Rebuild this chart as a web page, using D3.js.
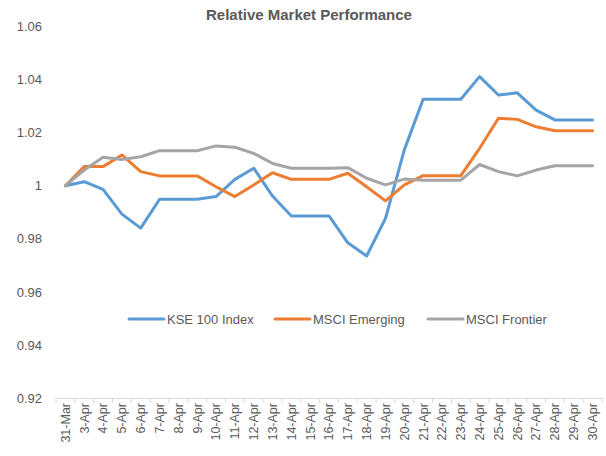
<!DOCTYPE html>
<html><head><meta charset="utf-8">
<script src="https://cdn.jsdelivr.net/npm/d3@7"></script>
<style>body{margin:0;background:#fff}svg{display:block}</style>
</head><body>
<script>
const categories = ["31-Mar","3-Apr","4-Apr","5-Apr","6-Apr","7-Apr","8-Apr","9-Apr","10-Apr","11-Apr","12-Apr","13-Apr","14-Apr","15-Apr","16-Apr","17-Apr","18-Apr","19-Apr","20-Apr","21-Apr","22-Apr","23-Apr","24-Apr","25-Apr","26-Apr","27-Apr","28-Apr","29-Apr","30-Apr"];
const kse100 = [1.0,1.0015,0.9986,0.9893,0.984,0.9949,0.9949,0.9949,0.9959,1.0024,1.0066,0.9961,0.9886,0.9886,0.9886,0.9785,0.9735,0.9877,1.0135,1.0326,1.0326,1.0326,1.0411,1.0342,1.035,1.0285,1.0248,1.0248,1.0248];
const msciEmerging = [1.0,1.0072,1.0072,1.0116,1.0053,1.0037,1.0037,1.0037,0.9996,0.9959,1.0003,1.0049,1.0024,1.0024,1.0024,1.0047,0.9996,0.9943,1.0003,1.0038,1.0038,1.0038,1.0141,1.0254,1.025,1.0222,1.0207,1.0207,1.0207];
const msciFrontier = [1.0,1.0059,1.0107,1.0099,1.0109,1.0132,1.0132,1.0132,1.015,1.0145,1.0122,1.0084,1.0066,1.0066,1.0066,1.0068,1.0028,1.0003,1.0025,1.0021,1.0021,1.0021,1.008,1.0053,1.0037,1.0059,1.0075,1.0075,1.0075];
const yTicks = [0.92,0.94,0.96,0.98,1,1.02,1.04,1.06];
const seriesNames = ["KSE 100 Index","MSCI Emerging","MSCI Frontier"];
const colors = ["#5B9BD5","#ED7D31","#A5A5A5"];

const W = 606, H = 456;
const font = "'Liberation Sans', Arial, sans-serif";
const svg = d3.select("body").append("svg").attr("width", W).attr("height", H);

const x = d3.scaleBand().domain(categories).range([56, 602]);
const y = d3.scaleLinear().domain([0.92, 1.06]).range([398, 26.5]);

// title
svg.append("text").attr("x", 309).attr("y", 20).attr("text-anchor", "middle")
  .attr("font-family", font).attr("font-weight", "bold").attr("font-size", 15)
  .attr("fill", "#595959").text("Relative Market Performance");

// y axis labels (no line)
const yAxis = d3.axisLeft(y).tickValues(yTicks).tickFormat(d => d === 1 ? "1" : d3.format(".2f")(d)).tickSize(0).tickPadding(0);
const yg = svg.append("g").attr("transform", "translate(42,0)").call(yAxis);
yg.select(".domain").remove();
yg.selectAll("text").attr("font-family", font).attr("font-size", 13).attr("fill", "#595959");

// x axis
const xAxis = d3.axisBottom(x).tickSizeInner(0).tickSizeOuter(0);
const xg = svg.append("g").attr("transform", "translate(0,398)").call(xAxis);
xg.select(".domain").attr("stroke", "#D9D9D9").attr("stroke-width", 1);
xg.selectAll(".tick text").attr("font-family", font).attr("font-size", 12.5).attr("fill", "#595959")
  .attr("transform", "rotate(-90)").attr("text-anchor", "end").attr("x", -5).attr("y", 0).attr("dy", "0.35em");
// tick marks at band boundaries
const bounds = categories.map(c => x(c)).concat([x.range()[1]]);
xg.selectAll(".bt").data(bounds).enter().append("line")
  .attr("x1", d => d).attr("x2", d => d).attr("y1", 0).attr("y2", 5)
  .attr("stroke", "#D9D9D9");

// lines
const allSeries = [kse100, msciEmerging, msciFrontier];
const line = d3.line().x((d, i) => x(categories[i]) + x.bandwidth() / 2).y(d => y(d));
allSeries.forEach((s, k) => {
  svg.append("path").datum(s).attr("d", line).attr("fill", "none")
    .attr("stroke", colors[k]).attr("stroke-width", 3).attr("stroke-linejoin", "round").attr("stroke-linecap", "round");
});

// legend
const legX = [129, 275, 428];
seriesNames.forEach((n, k) => {
  const g = svg.append("g").attr("transform", `translate(${legX[k]},319)`);
  g.append("line").attr("x1", 0).attr("x2", 35).attr("y1", 0).attr("y2", 0)
    .attr("stroke", colors[k]).attr("stroke-width", 3).attr("stroke-linecap", "round");
  g.append("text").attr("x", 38).attr("y", 0).attr("dy", "0.35em")
    .attr("font-family", font).attr("font-size", 13).attr("fill", "#595959").text(n);
});
</script>
</body></html>
